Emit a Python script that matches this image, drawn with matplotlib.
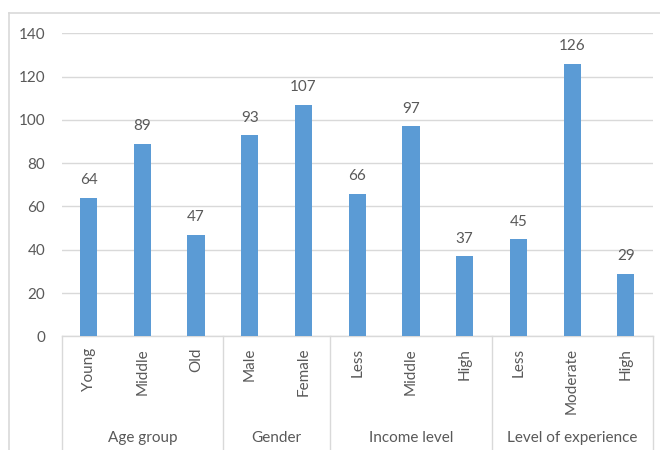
import matplotlib
matplotlib.use("Agg")
import matplotlib.pyplot as plt
from matplotlib.lines import Line2D
import numpy as np

groups = ["Age group", "Gender", "Income level", "Level of experience"]
group_items = [
    ["Young", "Middle", "Old"],
    ["Male", "Female"],
    ["Less", "Middle", "High"],
    ["Less", "Moderate", "High"],
]
counts = [64, 89, 47, 93, 107, 66, 97, 37, 45, 126, 29]

BAR = "#5B9BD5"
GRID = "#D9D9D9"
TXT = "#595959"
FS = 11
plt.rcParams["font.family"] = ["Lato", "DejaVu Sans"]

labels = [c for g in group_items for c in g]
x = np.arange(len(labels))

fig = plt.figure(figsize=(6.6, 4.5), dpi=100)
W, H = 660, 450
ax = fig.add_axes([61.7 / W, 1 - 336.4 / H, 591 / W, 303.1 / H])

ax.bar(x, counts, width=0.32, color=BAR, zorder=3)
for xi, v in zip(x, counts):
    ax.annotate(str(v), (xi, v), xytext=(0, 7.5), textcoords="offset points",
                ha="center", va="bottom", fontsize=FS, color=TXT)

ax.set_xlim(-0.5, len(labels) - 0.5)
ax.set_ylim(0, 140)
ax.set_yticks(range(0, 141, 20))
ax.yaxis.grid(True, color=GRID, linewidth=1, zorder=0)
ax.tick_params(axis="y", length=0, pad=12, labelsize=FS, labelcolor=TXT)
ax.set_xticks([])
for s in ["top", "right", "left"]:
    ax.spines[s].set_visible(False)
ax.spines["bottom"].set_color(GRID)
ax.spines["bottom"].set_linewidth(1)

# category labels, rotated under each bar
for xi, lab in zip(x, labels):
    ax.text(xi, -0.038, lab, transform=ax.get_xaxis_transform(), rotation=90,
            ha="center", va="top", fontsize=FS, color=TXT)

# group labels and separators
trans = ax.get_xaxis_transform()
start = 0
bounds = [-0.5]
for g, items in zip(groups, group_items):
    end = start + len(items)
    ax.text((start + end - 1) / 2, -0.335, g, transform=trans,
            ha="center", va="center", fontsize=FS, color=TXT)
    bounds.append(end - 0.5)
    start = end
for b in bounds:
    ax.add_line(Line2D([b, b], [0, -0.45], transform=trans, color=GRID,
                       linewidth=1, clip_on=False))

# chart frame
fig.add_artist(Line2D([8.5 / W, 8.5 / W], [0, 1 - 13.3 / H], color=GRID,
                      linewidth=1.2, transform=fig.transFigure))
fig.add_artist(Line2D([8.5 / W, 1], [1 - 13.3 / H, 1 - 13.3 / H], color=GRID,
                      linewidth=1.2, transform=fig.transFigure))

fig.savefig("out.png", dpi=100)
